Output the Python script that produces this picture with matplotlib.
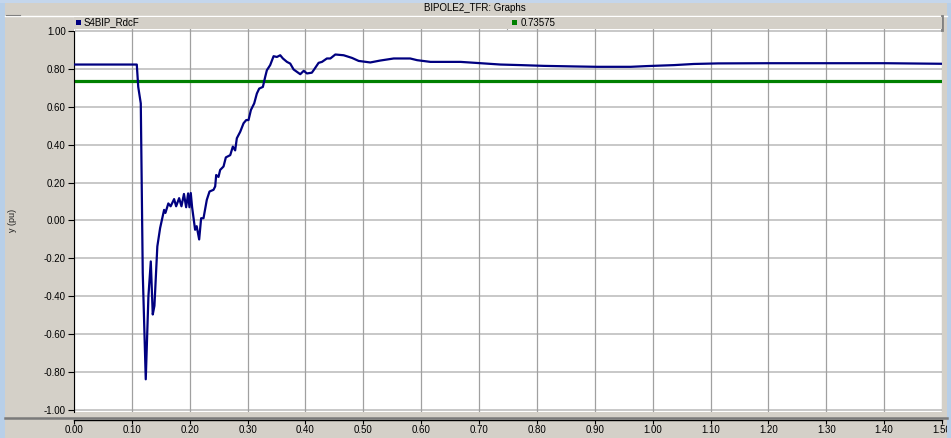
import matplotlib
matplotlib.use("Agg")
import matplotlib.pyplot as plt
from matplotlib.patches import Rectangle
from matplotlib.lines import Line2D

# ---- data ----
t = [0.0, 0.1085, 0.111, 0.1154, 0.1188, 0.124, 0.1286, 0.1327, 0.1361, 0.139,
     0.144, 0.1488, 0.1557, 0.158, 0.163, 0.167, 0.173, 0.1765, 0.1817, 0.1857,
     0.190, 0.1938, 0.1972, 0.1995, 0.2018, 0.2041, 0.2093, 0.212, 0.2163, 0.2197,
     0.2238, 0.2295, 0.2342, 0.2411, 0.244, 0.2457, 0.2497, 0.2526, 0.2584, 0.2624,
     0.27, 0.2745, 0.2785, 0.2814, 0.2872, 0.293, 0.2976, 0.3016, 0.3057, 0.3114,
     0.316, 0.320, 0.3264, 0.3304, 0.3333, 0.339, 0.3449, 0.3506, 0.3564, 0.361,
     0.368, 0.3737, 0.3795, 0.385, 0.391, 0.397, 0.4025, 0.411, 0.415, 0.4227,
     0.4285, 0.437, 0.443, 0.4516, 0.466, 0.4804, 0.492, 0.512, 0.529, 0.5525,
     0.581, 0.593, 0.616, 0.668, 0.703, 0.737, 0.772, 0.812, 0.864, 0.904,
     0.962, 0.991, 1.037, 1.071, 1.113, 1.201, 1.402, 1.5]
s4bip_rdcf = [0.823, 0.823, 0.705, 0.618, -0.277, -0.838, -0.40, -0.216, -0.496, -0.45,
              -0.137, -0.04, 0.056, 0.04, 0.09, 0.075, 0.113, 0.075, 0.118, 0.075,
              0.14, 0.07, 0.143, 0.07, 0.145, 0.07, -0.049, -0.03, -0.10, 0.012,
              0.012, 0.109, 0.153, 0.162, 0.18, 0.24, 0.23, 0.267, 0.285, 0.333,
              0.345, 0.39, 0.37, 0.434, 0.468, 0.513, 0.53, 0.53, 0.583, 0.618,
              0.67, 0.696, 0.705, 0.758, 0.793, 0.82, 0.867, 0.863, 0.872, 0.855,
              0.837, 0.828, 0.797, 0.785, 0.772, 0.79, 0.776, 0.78, 0.797, 0.832,
              0.837, 0.855, 0.855, 0.876, 0.872, 0.858, 0.842, 0.834, 0.844, 0.855,
              0.855, 0.846, 0.837, 0.837, 0.83, 0.823, 0.82, 0.816, 0.813, 0.811,
              0.811, 0.815, 0.82, 0.826, 0.829, 0.83, 0.83, 0.827]
ref_value = 0.73575
series_name = "S4BIP_RdcF"
title = "BIPOLE2_TFR: Graphs"
ylabel = "y (pu)"
xticks = [i / 10 for i in range(16)]
yticks = [-1.0, -0.8, -0.6, -0.4, -0.2, 0.0, 0.2, 0.4, 0.6, 0.8, 1.0]

# ---- figure ----
W, H = 951, 438
plt.rcParams['font.family'] = ['Liberation Sans', 'DejaVu Sans']
BG = '#d4d0c8'
fig = plt.figure(figsize=(W / 100, H / 100), dpi=100, facecolor=BG)

def fx(px):
    return px / W

def fy(py):
    return 1 - py / H

# desktop edges (bluish)
fig.patches.append(Rectangle((0, 0), fx(5), 1, transform=fig.transFigure,
                             facecolor='#b8cfe8', edgecolor='none', zorder=0))
fig.patches.append(Rectangle((fx(947), 0), fx(4), 1, transform=fig.transFigure,
                             facecolor='#b8cfe8', edgecolor='none', zorder=0))
fig.patches.append(Rectangle((0, fy(3)), 1, 3 / H, transform=fig.transFigure,
                             facecolor='#c4d6ec', edgecolor='none', zorder=0))

# main axes
left_px, right_px, top_px, bot_px = 74, 942, 29, 412
ax = fig.add_axes([fx(left_px), fy(bot_px), fx(right_px - left_px), (bot_px - top_px) / H])
ax.set_facecolor('white')
ppu = (410 - 31) / 2.0
pad = 2 / ppu
ax.set_xlim(0, 1.5)
ax.set_ylim(-1 - pad, 1 + pad)

ax.set_xticks(xticks)
ax.set_xticklabels([f"{v:.2f}" for v in xticks])
ax.set_yticks(yticks)
ax.set_yticklabels([f"{v:.2f}" for v in yticks])
ax.tick_params(axis='y', direction='out', length=4, width=0.8, color='black',
               labelsize=7, labelcolor='black', pad=2)
ax.tick_params(axis='x', direction='out', length=3, width=0.8, color='black',
               labelsize=7, labelcolor='black', pad=0.8)

for y in yticks:
    ax.axhline(y, color='#c4c4c4', lw=1.3, zorder=1)
for x in xticks:
    ax.axvline(x, color='#a0a0a0', lw=0.9, zorder=1)

ax.plot(t, s4bip_rdcf, color='#000080', lw=1.6, zorder=3)
ax.axhline(ref_value, color='#008000', lw=2.3, zorder=2)

for sp in ['top', 'right']:
    ax.spines[sp].set_visible(False)
ax.spines['left'].set_color('black')
ax.spines['left'].set_linewidth(0.8)
ax.spines['bottom'].set_position(('outward', 5.8))
ax.spines['bottom'].set_color('black')
ax.spines['bottom'].set_linewidth(1.0)

ax.set_ylabel(ylabel, fontsize=6.5, color='#202020')
ax.yaxis.set_label_coords(-(74 - 17) / (right_px - left_px), 0.5)

# separator under plot
fig.lines.append(Line2D([fx(5), fx(947)], [fy(418.3), fy(418.3)], transform=fig.transFigure,
                        color='#7a7a7a', lw=1.8, zorder=5))

# title
fig.text(fx(475), fy(8), title, ha='center', va='center', fontsize=7, color='black')

# top white line and small dash
fig.lines.append(Line2D([fx(5), fx(947)], [fy(16), fy(16)], transform=fig.transFigure,
                        color='white', lw=1.0))
fig.lines.append(Line2D([fx(6), fx(20)], [fy(15), fy(15)], transform=fig.transFigure,
                        color='#808080', lw=0.8))

# legend bar
fig.patches.append(Rectangle((fx(74), fy(29)), fx(942 - 74), (29 - 17) / H,
                             transform=fig.transFigure, facecolor=BG,
                             edgecolor='none', zorder=2))
fig.lines.append(Line2D([fx(73.5), fx(73.5)], [fy(17), fy(30)], transform=fig.transFigure,
                        color='white', lw=0.8))
fig.lines.append(Line2D([fx(508), fx(508)], [fy(17), fy(29)], transform=fig.transFigure,
                        color='white', lw=0.8))
fig.lines.append(Line2D([fx(507), fx(507)], [fy(17), fy(29)], transform=fig.transFigure,
                        color='#a0a0a0', lw=0.8))
fig.lines.append(Line2D([fx(941.5), fx(941.5)], [fy(16), fy(30)], transform=fig.transFigure,
                        color='#808080', lw=2.0))

fig.patches.append(Rectangle((fx(76), fy(25)), fx(5), 5 / H, transform=fig.transFigure,
                             facecolor='#000080', edgecolor='none', zorder=3))
fig.text(fx(84), fy(22.5), series_name, ha='left', va='center', fontsize=7, color='black')
fig.patches.append(Rectangle((fx(512), fy(25)), fx(5), 5 / H, transform=fig.transFigure,
                             facecolor='#008000', edgecolor='none', zorder=3))
fig.text(fx(521), fy(22.5), f"{ref_value:.5f}", ha='left', va='center', fontsize=7,
         color='black')
fig.lines.append(Line2D([fx(521), fx(555)], [fy(28), fy(28)], transform=fig.transFigure,
                        color='black', lw=0.8))

fig.savefig("out.png", dpi=100, facecolor=BG)
